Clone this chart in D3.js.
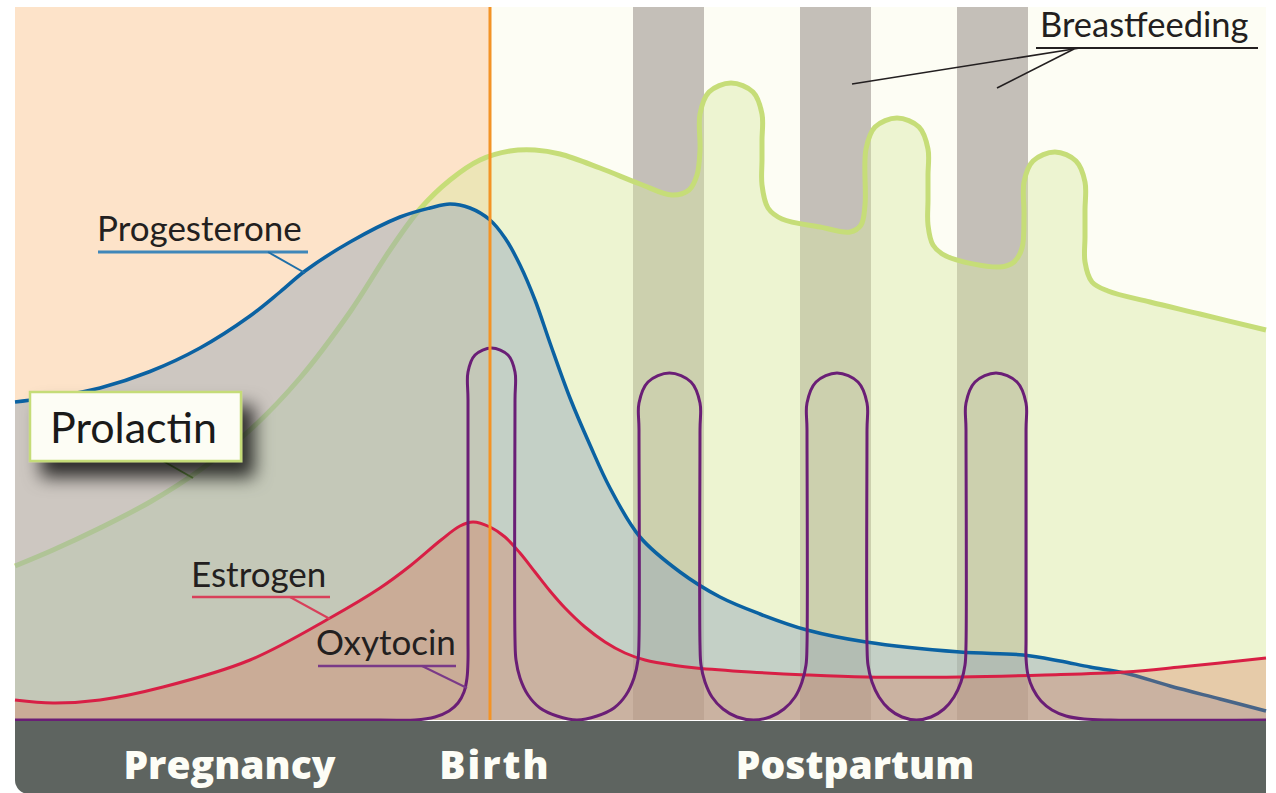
<!DOCTYPE html>
<html><head><meta charset="utf-8">
<script src="https://cdn.jsdelivr.net/npm/d3@7"></script>
<style>html,body{margin:0;padding:0;background:#fff;} svg{display:block;}</style>
</head><body>
<svg id="c" width="1276" height="793"></svg>
<script>
// ---- data (time in relative units, level in arbitrary units) ----
const progesterone = [[0,31.8],[4.5,32.4],[8.5,33.2],[13.5,34.85],[18.5,37.2],[23.5,40.4],[26.5,42.8],[29.0,44.9],[33.5,47.8],[38.5,50.3],[41.5,51.2],[43.5,51.6],[45.5,51.2],[47.5,50.0],[49.0,48.2],[50.5,45.5],[52.0,42.0],[53.5,37.7],[55.5,32.2],[57.5,27.5],[59.5,23.2],[62.5,18.3],[66.5,14.8],[70.5,12.3],[74.5,10.6],[79.2,9.0],[85.1,7.8],[94.5,6.8],[100.8,6.5],[104.5,5.9],[107.5,5.3],[111.0,4.7],[115.5,3.4],[120.5,2.1],[125.1,0.9]];
const prolactin = [[0,15.4],[3.8,17.0],[8.5,19.2],[13.5,21.8],[18.5,25.0],[23.5,29.0],[28.5,34.2],[33.5,40.8],[37.5,47.0],[40.5,51.1],[43.5,54.0],[46.5,56.0],[49.5,56.9],[52.0,57.0],[54.5,56.6],[58.5,55.2],[62.5,53.6],[65.7,52.5],[67.4,53.0],[68.2,54.5],[68.5,57.0],[68.5,60.6],[69.4,62.8],[71.6,63.7],[73.8,62.8],[74.7,60.6],[74.7,58.0],[74.7,56.0],[74.7,53.5],[75.3,51.2],[76.7,50.1],[80.5,49.3],[83.5,48.8],[84.6,49.5],[85.0,51.5],[85.1,57.1],[86.0,59.3],[88.2,60.2],[90.4,59.3],[91.3,57.1],[91.3,54.5],[91.3,52.0],[91.3,49.5],[91.8,47.5],[93.1,46.4],[98.5,45.3],[99.9,45.8],[100.7,47.2],[100.9,50.5],[100.9,53.8],[101.8,55.9],[104.0,56.8],[106.1,55.9],[107.0,53.8],[107.0,51.0],[107.0,48.3],[107.0,45.8],[107.7,43.8],[109.3,42.9],[113.5,41.8],[118.5,40.6],[125.1,39.0]];
const estrogen = [[0,2.0],[3.8,1.7],[8.5,2.0],[14.8,3.3],[23.5,6.0],[31.5,10.2],[36.5,13.2],[39.5,15.4],[42.6,18.0],[44.5,19.4],[45.8,19.8],[47.5,19.3],[49.0,18.3],[50.5,16.7],[52.0,14.8],[53.5,12.9],[55.0,11.2],[57.0,9.3],[59.0,7.8],[61.0,6.7],[63.0,6.0],[66.0,5.45],[68.1,5.2],[73.5,4.8],[79.2,4.5],[85.1,4.3],[94.5,4.3],[103.0,4.5],[111.0,4.8],[116.5,5.3],[125.1,6.2]];
const oxytocin = [
  [0,0],[36.5,0],[40.0,0],[42.0,0.3],[43.4,0.9],[44.3,1.7],[44.9,2.8],[45.2,4.2],[45.3,6.0],[45.3,8.0],
  [45.3,32.0],[45.3,34.8],[46.0,36.5],[47.65,37.2],[49.3,36.5],[50.0,34.8],[50.0,32.0],
  [50.0,8.0],[50.1,6.0],[50.5,4.2],[51.3,2.5],[52.5,1.2],[54.2,0.4],[56.2,0],[58.2,0.4],[59.9,1.2],[61.1,2.5],[61.9,4.2],[62.3,6.0],[62.4,8.0],
  [62.4,29.0],[62.4,31.7],[63.3,33.8],[65.45,34.7],[67.6,33.8],[68.5,31.7],[68.5,29.0],
  [68.5,7.5],[68.6,5.5],[69.0,3.8],[69.7,2.3],[70.8,1.1],[72.2,0.3],[73.85,0],[75.5,0.3],[76.9,1.1],[78.0,2.3],[78.7,3.8],[79.1,5.5],[79.2,7.5],
  [79.2,29.0],[79.2,31.7],[80.1,33.8],[82.2,34.7],[84.3,33.8],[85.2,31.7],[85.2,29.0],
  [85.2,7.5],[85.3,5.5],[85.7,3.8],[86.4,2.3],[87.4,1.1],[88.7,0.3],[90.15,0],[91.6,0.3],[92.9,1.1],[93.9,2.3],[94.6,3.8],[95.0,5.5],[95.1,7.5],
  [95.1,29.0],[95.1,31.7],[96.0,33.8],[98.1,34.7],[100.2,33.8],[101.1,31.7],[101.1,29.0],
  [101.1,8.0],[101.1,6.2],[101.3,4.5],[101.8,3.1],[102.6,1.9],[103.7,1.0],[105.1,0.4],[106.9,0.1],[109.5,0],[125.1,0]];
const breastfeeding = [[61.8,68.9],[78.5,85.6],[94.2,101.3]];
const birthTime = 47.5;
const timeDomain = [0,125.1];
const levelDomain = [0,71.3];
const phases = [["Pregnancy",21.45,0],["Birth",47.9,2],["Postpartum",84.0,0]];

// ---- scales ----
const x = d3.scaleLinear().domain(timeDomain).range([15,1266]);
const y = d3.scaleLinear().domain(levelDomain).range([720,7]);
const svg = d3.select('#c');
const defs = svg.append('defs');
const f = defs.append('filter').attr('id','sh').attr('x','-20%').attr('y','-30%').attr('width','160%').attr('height','200%');
f.append('feDropShadow').attr('dx',12).attr('dy',15).attr('stdDeviation',9).attr('flood-color','#000').attr('flood-opacity',0.78);

const yTop = y(levelDomain[1]), yBase = y(0);
// backgrounds
svg.append('rect').attr('x',x(0)).attr('y',yTop).attr('width',x(birthTime)-x(0)).attr('height',yBase-yTop).attr('fill','#fde3c9');
svg.append('rect').attr('x',x(birthTime)).attr('y',yTop).attr('width',x(timeDomain[1])-x(birthTime)).attr('height',yBase-yTop).attr('fill','#fdfdf4');
// breastfeeding bands
svg.selectAll('rect.band').data(breastfeeding).join('rect').attr('class','band')
  .attr('x',d=>x(d[0])).attr('y',yTop).attr('width',d=>x(d[1])-x(d[0])).attr('height',yBase-yTop).attr('fill','#c4bfb8');

const curve = d3.curveCatmullRom.alpha(0.5);
const line = d3.line().x(d=>x(d[0])).y(d=>y(d[1])).curve(curve);
const area = d3.area().x(d=>x(d[0])).y0(yBase).y1(d=>y(d[1])).curve(curve);

// prolactin
svg.append('path').attr('d',area(prolactin)).attr('fill','rgb(215,232,160)').attr('fill-opacity',0.42);
svg.append('path').attr('d',line(prolactin)).attr('fill','none').attr('stroke','#c6dd78').attr('stroke-width',5);
// progesterone
svg.append('path').attr('d',area(progesterone)).attr('fill','rgb(151,167,185)').attr('fill-opacity',0.47);
svg.append('path').attr('d',line(progesterone)).attr('fill','none').attr('stroke','#0b62a2').attr('stroke-width',3.5);
// estrogen
svg.append('path').attr('d',area(estrogen)).attr('fill','rgb(215,110,75)').attr('fill-opacity',0.3);
svg.append('path').attr('d',line(estrogen)).attr('fill','none').attr('stroke','#d81f45').attr('stroke-width',3);
// oxytocin
svg.append('path').attr('d',line(oxytocin)).attr('fill','none').attr('stroke','#6a1e76').attr('stroke-width',3);
// birth line
svg.append('line').attr('x1',x(birthTime)).attr('x2',x(birthTime)).attr('y1',yTop).attr('y2',yBase).attr('stroke','#f39325').attr('stroke-width',3);

// bottom band
svg.append('path').attr('d',`M${x(0)},${yBase+1}H${x(timeDomain[1])}V794H29A14,14 0 0 1 ${x(0)},780Z`).attr('fill','#5e6460');
svg.selectAll('text.phase').data(phases).join('text').attr('class','phase')
  .attr('x',d=>x(d[1])+d[2]/2).attr('y',779).attr('text-anchor','middle')
  .attr('font-family','"Open Sans", sans-serif').attr('font-weight',800).attr('font-size',39).attr('fill','#fdfdf6')
  .attr('letter-spacing',d=>d[2])
  .text(d=>d[0]);

// annotations
const lbl = (t,xx,yy,size)=>svg.append('text').attr('x',xx).attr('y',yy).attr('font-family','Lato, sans-serif').attr('font-size',size).attr('fill','#231f20').text(t);
const seg = (x1,y1,x2,y2,c,w)=>svg.append('line').attr('x1',x1).attr('y1',y1).attr('x2',x2).attr('y2',y2).attr('stroke',c).attr('stroke-width',w);

lbl('Progesterone',97,241,35);
seg(98,252,308,252,'#3f87b9',3); seg(268,252,305,273,'#1f6fa8',2);
lbl('Estrogen',191,587,35);
seg(192,597,330,597,'#d8405a',2.5); seg(290,597,330,619,'#d8405a',2);
lbl('Oxytocin',316,655,35);
seg(318,666,456,666,'#7a3a88',2.5); seg(422,666,467,688,'#7a3a88',2);
lbl('Breastfeeding',1040,37,34.5);
seg(1036,48,1258,48,'#231f20',2); seg(1080,48,852,84,'#231f20',1.6); seg(1074,49,997,88,'#231f20',1.6);

// Prolactin box
seg(163,461,193,478,'#6f9a48',2);
svg.append('rect').attr('x',30).attr('y',392).attr('width',211).attr('height',69)
  .attr('fill','#fdfdf5').attr('stroke','#c5dc78').attr('stroke-width',2.5).attr('filter','url(#sh)');
svg.append('text').attr('x',50).attr('y',443).attr('font-family','Lato, sans-serif').attr('font-size',43).attr('fill','#1a1a1a').text('Prolactin');
</script>
</body></html>
